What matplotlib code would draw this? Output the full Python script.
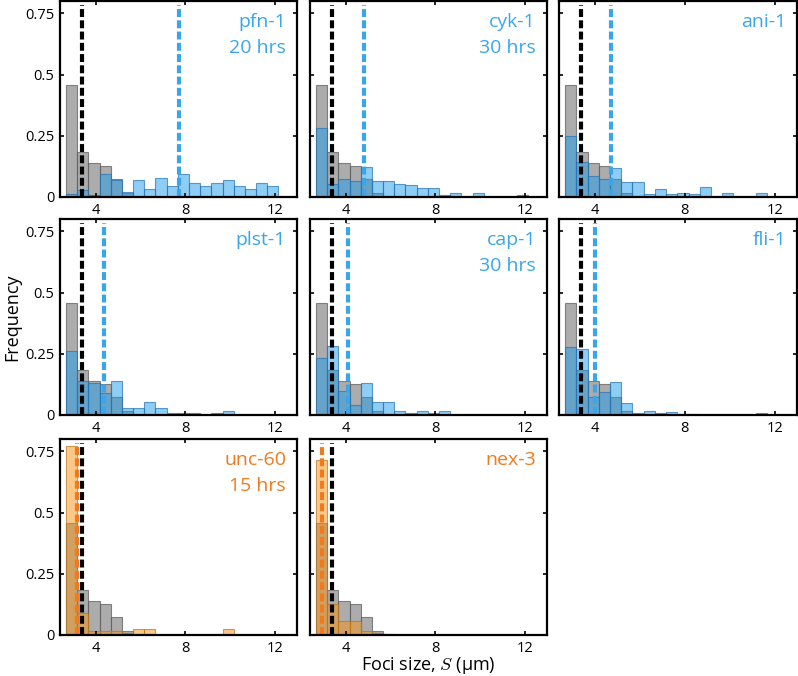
import numpy as np
import matplotlib.pyplot as plt

plt.rcParams['font.family'] = ['Open Sans', 'DejaVu Sans']
plt.rcParams['mathtext.fontset'] = 'cm'

# histogram bins (foci size, um)
bin_start = 2.67
bin_width = 0.5

# control (wild type) frequencies, same in every panel
control = [0.458, 0.184, 0.140, 0.126, 0.074, 0.015, 0.003]
control_mean = 3.38

labels = ['pfn-1\n20 hrs', 'cyk-1\n30 hrs', 'ani-1', 'plst-1',
          'cap-1\n30 hrs', 'fli-1', 'unc-60\n15 hrs', 'nex-3']
kind = ['blue', 'blue', 'blue', 'blue', 'blue', 'blue', 'orange', 'orange']
means = [7.70, 4.83, 4.71, 4.38, 4.09, 4.00, 3.18, 2.95]

pfn1 = [0.013, 0.030, 0.010, 0.092, 0.070, 0.020, 0.068, 0.031, 0.079, 0.045,
        0.092, 0.056, 0.045, 0.056, 0.068, 0.045, 0.031, 0.056, 0.045]
cyk1 = [0.283, 0.054, 0.072, 0.065, 0.122, 0.065, 0.065, 0.054, 0.049, 0.038,
        0.038, 0.008, 0.018, 0.0, 0.018, 0.0, 0.0, 0.0, 0.008]
ani1 = [0.251, 0.143, 0.086, 0.075, 0.120, 0.063, 0.063, 0.011, 0.031, 0.011,
        0.018, 0.011, 0.042, 0.0, 0.018, 0.0, 0.0, 0.018, 0.0]
plst1 = [0.260, 0.140, 0.132, 0.088, 0.140, 0.027, 0.027, 0.052, 0.027, 0.008,
         0.008, 0.008, 0.0, 0.008, 0.018]
cap1 = [0.233, 0.282, 0.100, 0.041, 0.129, 0.053, 0.053, 0.018, 0.008, 0.018,
        0.008, 0.018]
fli1 = [0.279, 0.268, 0.072, 0.093, 0.136, 0.048, 0.008, 0.018, 0.008, 0.011,
        0.004, 0.004, 0.0, 0.0, 0.0, 0.0, 0.0, 0.007]
unc60 = [0.773, 0.090, 0.015, 0.015, 0.015, 0.008, 0.025, 0.025, 0.0, 0.0,
         0.0, 0.0, 0.0, 0.0, 0.025]
nex3 = [0.715, 0.125, 0.059, 0.059, 0.016, 0.009]
mutants = [pfn1, cyk1, ani1, plst1, cap1, fli1, unc60, nex3]

face = {'blue': (0.12, 0.61, 0.92), 'orange': (0.97, 0.58, 0.08)}
edge = {'blue': (0.15, 0.45, 0.70), 'orange': (0.75, 0.45, 0.10)}
line_col = {'blue': '#3aa6ea', 'orange': '#f07a1e'}

W, H = 798, 676
fig = plt.figure(figsize=(W / 100, H / 100), dpi=100)

col_x = [60, 310, 559]
col_w = [237, 237, 238]
row_y = [1, 219, 439]
ax_h = 196

for i in range(8):
    r, c = divmod(i, 3)
    ax = fig.add_axes([col_x[c] / W, 1 - (row_y[r] + ax_h) / H,
                       col_w[c] / W, ax_h / H])
    x_ctrl = bin_start + bin_width * np.arange(len(control))
    ax.bar(x_ctrl, control, width=bin_width, align='edge',
           color=(0.5, 0.5, 0.5, 0.65), edgecolor=(0.35, 0.35, 0.35, 0.7),
           linewidth=0.8)
    vals = mutants[i]
    x_mut = bin_start + bin_width * np.arange(len(vals))
    fc = face[kind[i]] + (0.5,)
    ec = edge[kind[i]] + (0.7,)
    ax.bar(x_mut, vals, width=bin_width, align='edge', color=fc,
           edgecolor=ec, linewidth=0.8)

    ls = (0, (1.9, 0.8))
    ax.axvline(control_mean, ymax=0.98, color='black', lw=3, ls=ls)
    ax.axvline(means[i], ymax=0.98, color=line_col[kind[i]], lw=3, ls=ls)

    lines = labels[i].split('\n')
    for k, txt in enumerate(lines):
        ax.text(1 - 11 / col_w[c], 1 - (26 + 26 * k) / ax_h, txt,
                transform=ax.transAxes, ha='right', va='baseline',
                fontsize=14, color=line_col[kind[i]])

    ax.set_xlim(2.4, 13)
    ax.set_ylim(0, 0.8)
    ax.set_xticks([4, 8, 12])
    ax.set_xticklabels(['4', '8', '12'])
    ax.set_yticks([0, 0.25, 0.5, 0.75])
    if c == 0:
        ax.set_yticklabels(['0', '0.25', '0.5', '0.75'])
    else:
        ax.set_yticklabels([])
    ax.tick_params(direction='in', length=3, width=1.2, top=True, right=True,
                   labelsize=10.5, pad=4)
    for s in ax.spines.values():
        s.set_linewidth(1.6)

fig.text(12 / W, 1 - 317 / H, 'Frequency', rotation=90, ha='center',
         va='center', fontsize=13)
fig.text(428 / W, 1 - 666 / H, r'Foci size, $S$ (µm)', ha='center',
         va='center', fontsize=13)

fig.savefig('out.png', dpi=100)
